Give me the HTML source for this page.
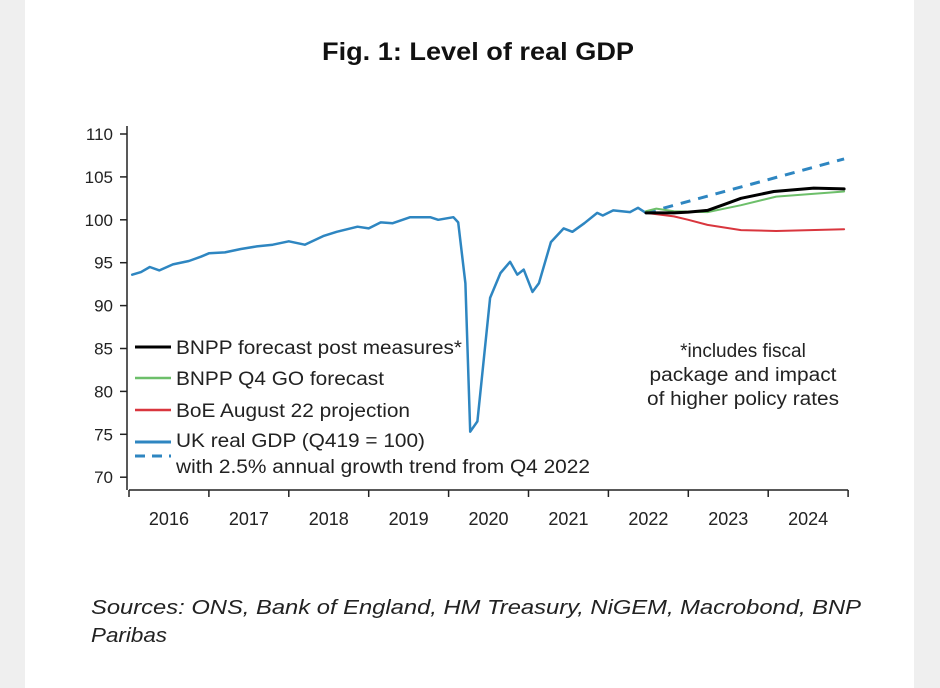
<!DOCTYPE html>
<html><head><meta charset="utf-8"><style>
html,body{margin:0;padding:0;background:#f0f0f0;}
svg{display:block;font-family:"Liberation Sans",Arial,sans-serif;}
</style></head><body>
<svg id="chart" width="940" height="688" viewBox="0 0 940 688">
<rect x="0" y="0" width="940" height="688" fill="#efefef"/>
<rect x="25" y="0" width="889" height="688" fill="#ffffff"/>
<text x="322" y="60" font-size="25" font-weight="bold" fill="#111" textLength="312" lengthAdjust="spacingAndGlyphs">Fig. 1: Level of real GDP</text>
<g id="axes"></g>
<g id="series"></g>
<g font-size="19" fill="#222">
<line x1="135" y1="347" x2="171" y2="347" stroke="#000" stroke-width="3"/>
<text x="176" y="354" textLength="286" lengthAdjust="spacingAndGlyphs">BNPP forecast post measures*</text>
<line x1="135" y1="378" x2="171" y2="378" stroke="#6dbf6a" stroke-width="2.5"/>
<text x="176" y="385" textLength="208" lengthAdjust="spacingAndGlyphs">BNPP Q4 GO forecast</text>
<line x1="135" y1="410" x2="171" y2="410" stroke="#d9363e" stroke-width="2.5"/>
<text x="176" y="417" textLength="234" lengthAdjust="spacingAndGlyphs">BoE August 22 projection</text>
<line x1="135" y1="442" x2="171" y2="442" stroke="#2e86c1" stroke-width="3"/>
<line x1="135" y1="456" x2="171" y2="456" stroke="#2e86c1" stroke-width="3" stroke-dasharray="10,7"/>
<text x="176" y="447" textLength="249" lengthAdjust="spacingAndGlyphs">UK real GDP (Q419 = 100)</text>
<text x="176" y="473" textLength="414" lengthAdjust="spacingAndGlyphs">with 2.5% annual growth trend from Q4 2022</text>
</g>
<g font-size="19" fill="#222" text-anchor="middle">
<text x="743" y="357">*includes fiscal</text>
<text x="743" y="381" textLength="187" lengthAdjust="spacingAndGlyphs">package and impact</text>
<text x="743" y="405" textLength="192" lengthAdjust="spacingAndGlyphs">of higher policy rates</text>
</g>
<g font-size="20" font-style="italic" fill="#222">
<text x="91" y="614" textLength="770" lengthAdjust="spacingAndGlyphs">Sources: ONS, Bank of England, HM Treasury, NiGEM, Macrobond, BNP</text>
<text x="91" y="642" textLength="76" lengthAdjust="spacingAndGlyphs">Paribas</text>
</g>
</svg>
<script>
const yTicks = [70,75,80,85,90,95,100,105,110];
const years = [2016,2017,2018,2019,2020,2021,2022,2023,2024];
const gdpT = [2016.04,2016.15,2016.26,2016.38,2016.55,2016.75,2016.9,2017.0,2017.2,2017.4,2017.6,2017.8,2018.0,2018.2,2018.43,2018.6,2018.86,2019.0,2019.15,2019.3,2019.52,2019.77,2019.87,2020.06,2020.12,2020.21,2020.27,2020.36,2020.52,2020.65,2020.77,2020.86,2020.94,2021.05,2021.13,2021.28,2021.44,2021.55,2021.7,2021.86,2021.93,2022.06,2022.27,2022.37,2022.47];
const gdpV = [93.6,93.9,94.5,94.1,94.8,95.2,95.7,96.1,96.2,96.6,96.9,97.1,97.5,97.1,98.1,98.6,99.2,99.0,99.7,99.6,100.3,100.3,100.0,100.3,99.7,92.6,75.3,76.5,90.9,93.8,95.1,93.6,94.2,91.6,92.6,97.4,99.0,98.6,99.6,100.8,100.5,101.1,100.9,101.4,100.8];
const postT = [2022.47,2022.82,2023.0,2023.24,2023.45,2023.66,2024.07,2024.57,2024.95];
const postV = [100.8,100.8,100.9,101.1,101.8,102.5,103.3,103.7,103.6];
const q4T = [2022.47,2022.6,2022.82,2023.24,2023.66,2024.1,2024.95];
const q4V = [101.0,101.3,101.0,100.9,101.7,102.7,103.3];
const boeT = [2022.47,2022.82,2023.0,2023.24,2023.66,2024.1,2024.95];
const boeV = [100.8,100.4,100.0,99.4,98.8,98.7,98.9];
const trendT = [2022.47,2024.95];
const trendV = [100.8,107.1];

const NS='http://www.w3.org/2000/svg';
const x = t => 129 + (t-2016)*79.9;
const y = v => 134 + (110-v)*8.58;
const axes=document.getElementById('axes'), ser=document.getElementById('series');
function mk(tag, attrs, parent){const e=document.createElementNS(NS,tag);for(const k in attrs)e.setAttribute(k,attrs[k]);parent.appendChild(e);return e;}
const ya=mk('line',{x1:127,y1:y(110)-8,x2:127,y2:490,stroke:'#222','stroke-width':1.5},axes);


const xa=mk('line',{x1:129,y1:490,x2:x(2025),y2:490,stroke:'#222','stroke-width':1.5},axes);


yTicks.forEach(v=>{
  const tk=mk('line',{x1:120,y1:y(v),x2:127,y2:y(v),stroke:'#222','stroke-width':1.5},axes);
  
  
  const tl=mk('text',{x:113,y:y(v)+6,'text-anchor':'end','font-size':17,fill:'#222'},axes);
  tl.textContent=v;
  
  
});
years.concat([2025]).forEach(yr=>{
  const tk=mk('line',{x1:x(yr),y1:490,x2:x(yr),y2:497,stroke:'#222','stroke-width':1.5},axes);
  
  
});
years.forEach(yr=>{
  const tl=mk('text',{x:x(yr+0.5),y:525,'text-anchor':'middle','font-size':18,fill:'#222'},axes);
  tl.textContent=yr;
  
  
});
function line(T,V,attrs,name){
  const d=T.map((t,i)=>(i?'L':'M')+x(t).toFixed(1)+','+y(V[i]).toFixed(1)).join('');
  const p=mk('path',Object.assign({d:d,fill:'none','stroke-linejoin':'round','stroke-linecap':'round'},attrs),ser);
  
  
}
line(trendT,trendV,{stroke:'#2e86c1','stroke-width':3,'stroke-dasharray':'10,8','stroke-linecap':'butt'},'trend-line');
line(gdpT,gdpV,{stroke:'#2e86c1','stroke-width':2.5},'uk-gdp-line');
line(q4T,q4V,{stroke:'#6dbf6a','stroke-width':2},'bnpp-q4-line');
line(boeT,boeV,{stroke:'#d9363e','stroke-width':2},'boe-line');
line(postT,postV,{stroke:'#000','stroke-width':3},'bnpp-post-line');
</script>
</body></html>
